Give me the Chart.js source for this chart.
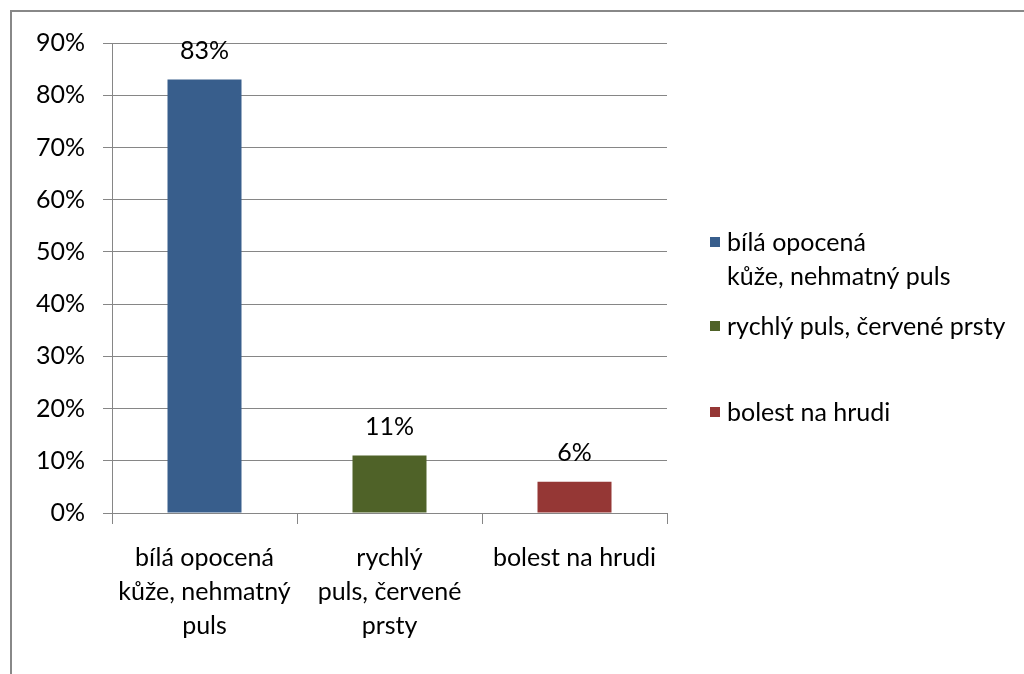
<!DOCTYPE html>
<html>
<head>
<meta charset="utf-8">
<script src="https://cdn.jsdelivr.net/npm/chart.js@4/dist/chart.umd.min.js"></script>
<style>
  html, body { margin: 0; padding: 0; background: #fff; overflow: hidden; }
  #wrap { position: relative; width: 1024px; height: 674px; }
  #frame { position: absolute; left: 10px; top: 10px; width: 1100px; height: 700px;
           border-left: 2px solid #888; border-top: 2px solid #888; pointer-events: none; }
  canvas { position: absolute; left: 0; top: 0; }
</style>
</head>
<body>
<div id="wrap">
  <canvas id="chart" width="1024" height="674"></canvas>
  <div id="frame"></div>
</div>
<script>
// Symptom categories as printed under the axis (wrapped lines)
const axisLabels = [
  ['bílá opocená', 'kůže, nehmatný', 'puls'],
  ['rychlý', 'puls, červené', 'prsty'],
  ['bolest na hrudi']
];
// Same categories as they are wrapped in the legend
const legendLabels = [
  ['bílá opocená', 'kůže, nehmatný puls'],
  ['rychlý puls, červené prsty'],
  ['bolest na hrudi']
];
// Share of respondents, in percent
const values = [83, 11, 6];
const barColors = ['#385E8C', '#4F6228', '#953735'];
const yTicks = { min: 0, max: 90, step: 10 };

const FONT = 'Lato, "Open Sans", sans-serif';
const GRID = '#868686';

// Percentage value above each bar
const valueLabels = {
  id: 'valueLabels',
  afterDatasetsDraw(chart) {
    const ctx = chart.ctx;
    const meta = chart.getDatasetMeta(0);
    ctx.save();
    ctx.font = '25px ' + FONT;
    ctx.fillStyle = '#000';
    ctx.textAlign = 'center';
    ctx.textBaseline = 'middle';
    meta.data.forEach((bar, i) => {
      ctx.fillText(values[i] + '%', bar.x, bar.y - 29);
    });
    ctx.restore();
  }
};

// Legend on the right with wrapped entries
const sideLegend = {
  id: 'sideLegend',
  afterDraw(chart) {
    const ctx = chart.ctx;
    const x = 710, textX = 727, box = 10, lineH = 34;
    const firstLine = [243, 327, 413];
    ctx.save();
    ctx.font = '25px ' + FONT;
    ctx.textAlign = 'left';
    ctx.textBaseline = 'middle';
    legendLabels.forEach((lines, i) => {
      const y0 = firstLine[i];
      ctx.fillStyle = barColors[i];
      ctx.fillRect(x, y0 - box / 2 - 1, box, box);
      ctx.fillStyle = '#000';
      lines.forEach((t, j) => ctx.fillText(t, textX, y0 + j * lineH));
    });
    ctx.restore();
  }
};

new Chart(document.getElementById('chart'), {
  type: 'bar',
  data: {
    labels: axisLabels,
    datasets: [{
      data: values,
      backgroundColor: barColors,
      borderWidth: 0,
      barPercentage: 0.4,
      categoryPercentage: 1.0
    }]
  },
  options: {
    responsive: false,
    animation: false,
    devicePixelRatio: 1,
    layout: { padding: { left: 0, top: 43, right: 357, bottom: 0 } },
    plugins: { legend: { display: false }, tooltip: { enabled: false } },
    scales: {
      x: {
        afterFit(scale) { scale.height = 161; },
        grid: { drawOnChartArea: false, drawTicks: true, tickLength: 11, color: GRID, lineWidth: 1, offset: true },
        border: { display: true, color: GRID, width: 1 },
        ticks: { color: '#000', font: { family: FONT, size: 25, lineHeight: 1.36 }, padding: 17, maxRotation: 0, autoSkip: false }
      },
      y: {
        min: yTicks.min,
        max: yTicks.max,
        afterFit(scale) { scale.width = 112; },
        grid: { color: GRID, lineWidth: 1, tickLength: 9 },
        border: { display: true, color: GRID, width: 1 },
        ticks: {
          stepSize: yTicks.step,
          color: '#000',
          font: { family: FONT, size: 25 },
          padding: 18,
          callback: v => v + '%'
        }
      }
    }
  },
  plugins: [valueLabels, sideLegend]
});
</script>
</body>
</html>
